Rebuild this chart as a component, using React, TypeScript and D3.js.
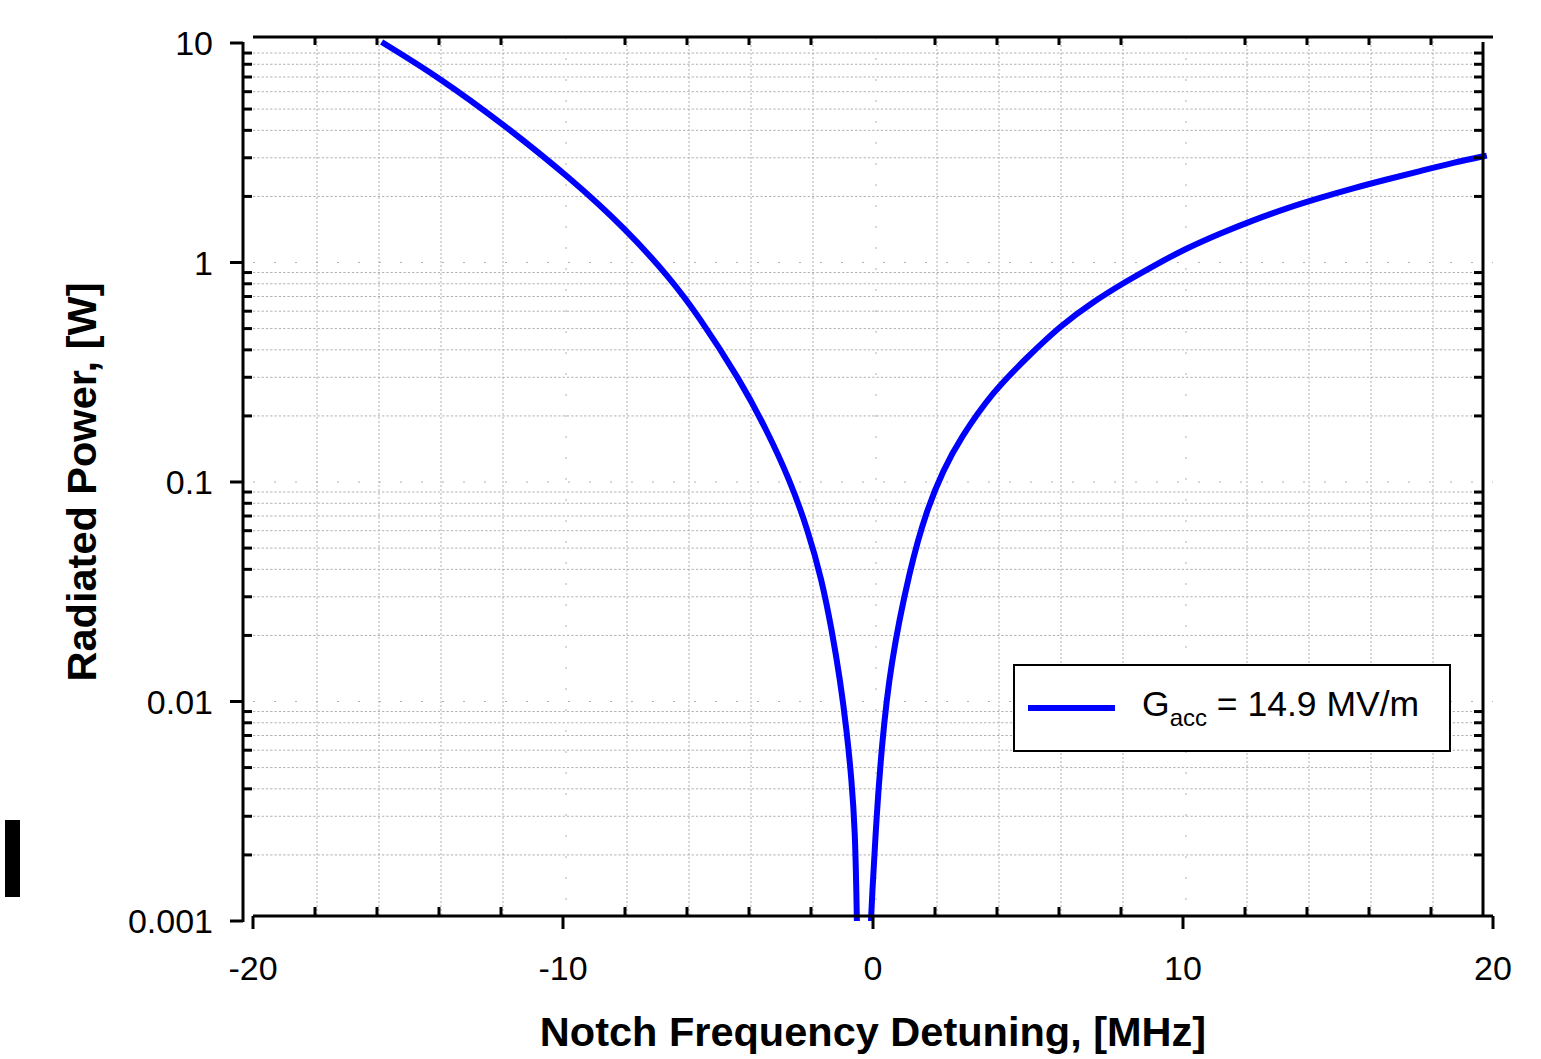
import React from "react";
import * as d3 from "d3";

// ---- data ----
const leftDetuning = [-15.85, -13.97, -11.93, -9.77, -7.95, -6.55, -5.65, -4.29, -3.43, -2.68, -2.1, -1.65, -1.33, -1.06, -0.85, -0.69, -0.58, -0.53, -0.52];
const leftPower = [10.1, 6.93, 4.27, 2.43, 1.41, 0.85, 0.577, 0.292, 0.1725, 0.102, 0.0604, 0.0358, 0.0212, 0.01253, 0.00741, 0.00439, 0.0026, 0.00122, 0.001];
const rightDetuning = [-0.065, -0.04, 0.12, 0.28, 0.55, 1.19, 1.73, 2.27, 2.81, 3.88, 4.96, 6.03, 7.11, 8.18, 9.04, 10.11, 11.19, 12.27, 13.35, 14.42, 15.49, 16.57, 17.65, 18.72, 19.8];
const rightPower = [0.001, 0.00122, 0.0031, 0.00622, 0.0145, 0.0405, 0.0746, 0.1135, 0.1575, 0.2595, 0.3683, 0.513, 0.664, 0.822, 0.965, 1.16, 1.355, 1.56, 1.77, 1.972, 2.18, 2.39, 2.61, 2.85, 3.07];

const xMajorTicks = [-20, -10, 0, 10, 20];
const xTickLabels = ["-20", "-10", "0", "10", "20"];
const xMinorTicks = [-18, -16, -14, -12, -8, -6, -4, -2, 2, 4, 6, 8, 12, 14, 16, 18];
const yMajorTicks = [0.001, 0.01, 0.1, 1, 10];
const yTickLabels = ["0.001", "0.01", "0.1", "1", "10"];
const yMinorMultipliers = [2, 3, 4, 5, 6, 7, 8, 9];
const yDecades = [0.001, 0.01, 0.1, 1];

const xTitle = "Notch Frequency Detuning, [MHz]";
const yTitle = "Radiated Power, [W]";
const legendMain = "G";
const legendSub = "acc";
const legendRest = " = 14.9 MV/m";

export default function App() {
  const W = 1541, H = 1059;
  const x = d3.scaleLinear().domain([-20, 20]).range([253, 1493]);
  const y = d3.scaleLog().domain([0.001, 10]).range([921, 43]);
  const leftAxisX = 243, rightAxisX = 1483, topAxisY = 37, bottomAxisY = 916;

  const yMinor: number[] = [];
  yDecades.forEach((d) => yMinorMultipliers.forEach((m) => yMinor.push(m * d)));

  const line = d3
    .line<[number, number]>()
    .x((d) => x(d[0]))
    .y((d) => y(d[1]))
    .curve(d3.curveBasis);

  const leftPts = leftDetuning.map((v, i) => [v, leftPower[i]] as [number, number]);
  const rightPts = rightDetuning.map((v, i) => [v, rightPower[i]] as [number, number]);

  const font = "'Liberation Sans', Arial, sans-serif";
  const gridColor = "#b0b0b0";
  const axisW = 3;

  return (
    <svg width={W} height={H} style={{ position: "absolute", left: 0, top: 0, background: "#fff" }} fontFamily={font}>
      <rect x={0} y={0} width={W} height={H} fill="#fff" />
      {/* minor horizontal grid */}
      {yMinor.map((v) => (
        <line key={"hg" + v} x1={253} x2={rightAxisX} y1={y(v)} y2={y(v)} stroke={gridColor} strokeWidth={1} strokeDasharray="2.3 2" />
      ))}
      {/* major horizontal grid (sparse) */}
      {yMajorTicks.slice(1, 4).map((v) => (
        <line key={"hgM" + v} x1={253} x2={1493} y1={y(v)} y2={y(v)} stroke={gridColor} strokeWidth={1} strokeDasharray="2 19" />
      ))}
      {/* minor vertical grid */}
      {xMinorTicks.map((v) => (
        <line key={"vg" + v} x1={x(v) + 2} x2={x(v) + 2} y1={topAxisY} y2={bottomAxisY} stroke={gridColor} strokeWidth={1} strokeDasharray="2 2" />
      ))}
      {/* major vertical grid (sparse) */}
      {xMajorTicks.slice(1, 4).map((v) => (
        <line key={"vgM" + v} x1={x(v) + 3} x2={x(v) + 3} y1={topAxisY} y2={bottomAxisY} stroke={gridColor} strokeWidth={1} strokeDasharray="2 19" />
      ))}

      {/* data curve */}
      <path d={line(leftPts) || ""} fill="none" stroke="#0000ff" strokeWidth={6} strokeLinecap="butt" strokeLinejoin="round" />
      <path d={line(rightPts) || ""} fill="none" stroke="#0000ff" strokeWidth={6} strokeLinecap="butt" strokeLinejoin="round" />

      {/* left axis */}
      <line x1={leftAxisX} x2={leftAxisX} y1={y(10) - 1} y2={y(0.001) + 1} stroke="#000" strokeWidth={axisW} />
      {yMajorTicks.map((v) => (
        <line key={"lt" + v} x1={230} x2={leftAxisX} y1={y(v)} y2={y(v)} stroke="#000" strokeWidth={axisW} />
      ))}
      {yMinor.map((v) => (
        <line key={"lm" + v} x1={leftAxisX} x2={leftAxisX + 9} y1={y(v)} y2={y(v)} stroke="#000" strokeWidth={axisW} />
      ))}
      {yMajorTicks.map((v, i) => (
        <text key={"ll" + v} x={213} y={y(v) + 12} textAnchor="end" fontSize={34} fill="#000">
          {yTickLabels[i]}
        </text>
      ))}

      {/* right axis */}
      <line x1={rightAxisX} x2={rightAxisX} y1={y(10) - 1} y2={bottomAxisY} stroke="#000" strokeWidth={axisW} />
      {yMinor.map((v) => (
        <line key={"rm" + v} x1={rightAxisX - 9} x2={rightAxisX} y1={y(v)} y2={y(v)} stroke="#000" strokeWidth={axisW} />
      ))}

      {/* top axis */}
      <line x1={253} x2={1493} y1={topAxisY} y2={topAxisY} stroke="#000" strokeWidth={axisW} />
      {xMinorTicks.map((v) => (
        <line key={"tm" + v} x1={x(v)} x2={x(v)} y1={topAxisY} y2={topAxisY + 8} stroke="#000" strokeWidth={axisW} />
      ))}

      {/* bottom axis */}
      <line x1={253} x2={1493} y1={bottomAxisY} y2={bottomAxisY} stroke="#000" strokeWidth={axisW} />
      {xMajorTicks.map((v) => (
        <line key={"bt" + v} x1={x(v)} x2={x(v)} y1={bottomAxisY} y2={bottomAxisY + 13} stroke="#000" strokeWidth={axisW} />
      ))}
      {xMinorTicks.map((v) => (
        <line key={"bm" + v} x1={x(v)} x2={x(v)} y1={bottomAxisY - 9} y2={bottomAxisY} stroke="#000" strokeWidth={axisW} />
      ))}
      {xMajorTicks.map((v, i) => (
        <text key={"bl" + v} x={x(v)} y={980} textAnchor="middle" fontSize={34} fill="#000">
          {xTickLabels[i]}
        </text>
      ))}

      {/* axis titles */}
      <text x={873} y={1046} textAnchor="middle" fontSize={41.5} fontWeight="bold" fill="#000">
        {xTitle}
      </text>
      <text transform={`translate(96,482) rotate(-90)`} textAnchor="middle" fontSize={41.5} fontWeight="bold" fill="#000">
        {yTitle}
      </text>

      {/* legend */}
      <rect x={1014} y={665} width={436} height={86} fill="#fff" stroke="#000" strokeWidth={2} />
      <line x1={1028} x2={1115} y1={708} y2={708} stroke="#0000ff" strokeWidth={6} />
      <text x={1142} y={716} fontSize={35.5} fill="#000">
        {legendMain}
        <tspan fontSize={24} dy={10}>{legendSub}</tspan>
        <tspan dy={-10}>{legendRest}</tspan>
      </text>

      {/* black marker at left edge */}
      <rect x={5} y={820} width={15} height={77} fill="#000" />
    </svg>
  );
}
